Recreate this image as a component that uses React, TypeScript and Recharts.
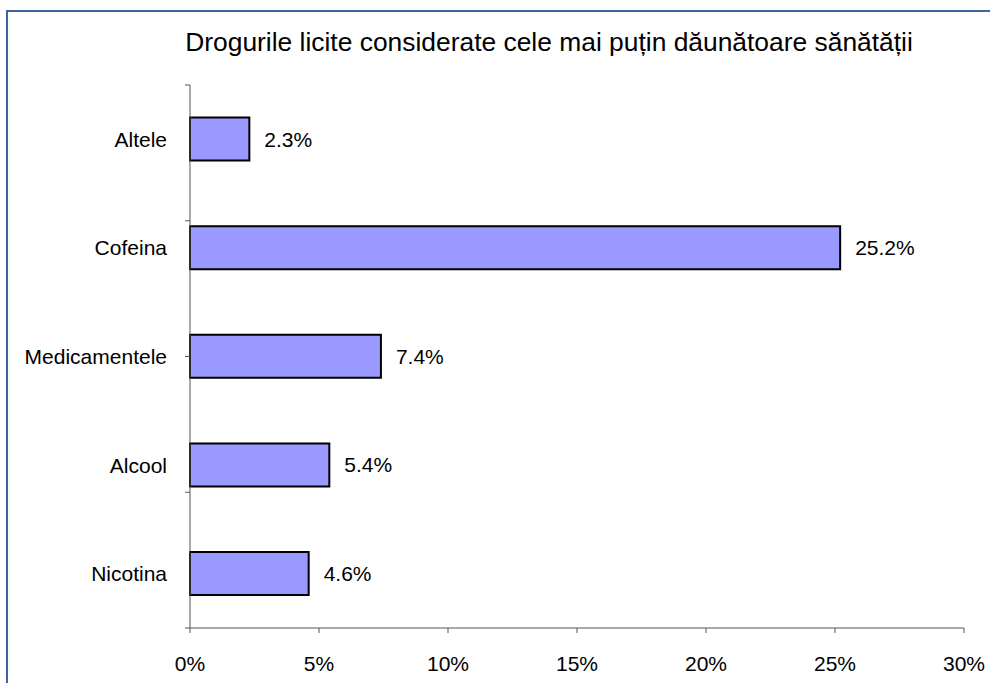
import React from "react";
import {
  BarChart, Bar, XAxis, YAxis, LabelList,
} from "recharts";

// categories top -> bottom
const categories = ["Altele", "Cofeina", "Medicamentele", "Alcool", "Nicotina"];
const shares = [2.3, 25.2, 7.4, 5.4, 4.6];
const xTicks = [0, 5, 10, 15, 20, 25, 30];
const bandEdges = [0, 1, 2, 3, 4, 5];

const title = "Drogurile licite considerate cele mai puțin dăunătoare sănătății";

const data = categories.map((name, i) => ({ name, value: shares[i] }));

const FONT = "'Liberation Sans', Arial, sans-serif";
const AXIS = "#555";

export default function App() {
  return (
    <div
      style={{
        position: "absolute", left: 0, top: 0, width: 990, height: 683,
        overflow: "hidden", background: "#fff", fontFamily: FONT,
      }}
    >
      {/* blue frame, runs off the right and bottom edge */}
      <div
        style={{
          position: "absolute", left: 6, top: 10, width: 1100, height: 800,
          border: "2px solid #3c64a0", boxSizing: "border-box",
        }}
      />
      <div
        style={{
          position: "absolute", left: 149, top: 29, width: 800,
          textAlign: "center", fontSize: 26.4, lineHeight: "26px", color: "#000",
          whiteSpace: "nowrap",
        }}
      >
        {title}
      </div>
      <div style={{ position: "absolute", left: 0, top: 0 }}>
        <BarChart
          width={990}
          height={683}
          data={data}
          layout="vertical"
          margin={{ top: 85, right: 26, bottom: 0, left: 0 }}
          barCategoryGap="30%"
        >
          <XAxis
            type="number"
            domain={[0, 30]}
            ticks={xTicks}
            tickFormatter={(v) => `${v}%`}
            height={55}
            tickSize={5}
            tickMargin={23}
            interval={0}
            stroke={AXIS}
            tick={{ fill: "#000", fontSize: 21, fontFamily: FONT }}
          />
          {/* numeric helper axis: draws the axis line and ticks at band edges */}
          <YAxis
            yAxisId="a"
            type="number"
            domain={[0, 5]}
            ticks={bandEdges}
            interval={0}
            tickFormatter={() => ""}
            tickSize={5}
            tickLine={{ stroke: AXIS }}
            width={1}
            stroke={AXIS}
          />
          <YAxis
            yAxisId="cat"
            type="category"
            dataKey="name"
            width={189}
            axisLine={false}
            tickLine={false}
            tickSize={0}
            tickMargin={22}
            interval={0}
            tick={{ fill: "#000", fontSize: 21, fontFamily: FONT }}
          />
          <Bar
            yAxisId="cat"
            dataKey="value"
            fill="#9999ff"
            stroke="#000"
            strokeWidth={2}
            isAnimationActive={false}
          >
            <LabelList
              dataKey="value"
              position="right"
              offset={15}
              formatter={(v: number) => `${v.toFixed(1)}%`}
              style={{ fill: "#000", fontSize: 21, fontFamily: FONT }}
            />
          </Bar>
        </BarChart>
      </div>
    </div>
  );
}
